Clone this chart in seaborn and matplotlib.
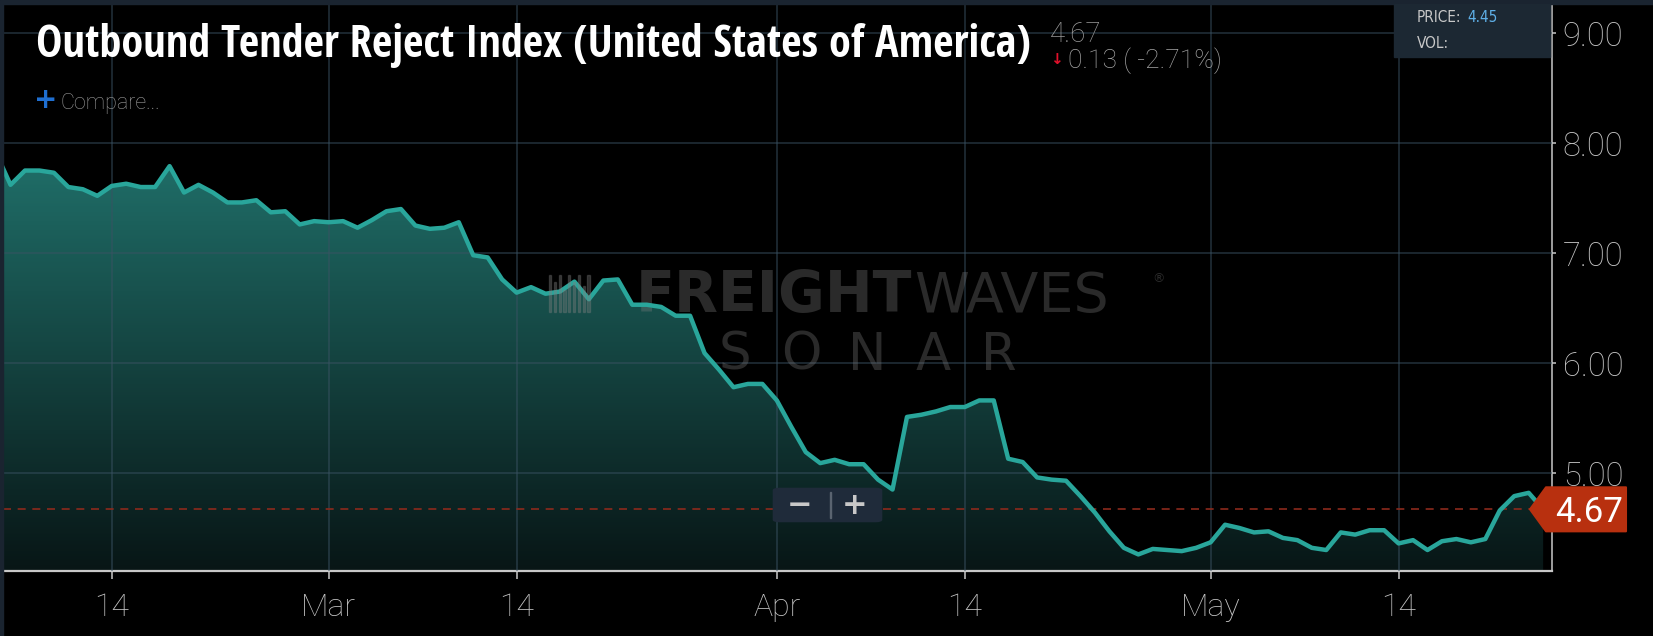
import numpy as np
import pandas as pd
import matplotlib
matplotlib.use('Agg')
import matplotlib.pyplot as plt
from matplotlib import font_manager as fm
from matplotlib.patches import Rectangle, FancyBboxPatch, Polygon
from matplotlib.colors import LinearSegmentedColormap
import seaborn as sns

# daily index values, 2019-02-06 .. 2019-05-24
start_date = '2019-02-06'
reject_index = [
    7.91, 7.62, 7.75, 7.75, 7.73, 7.60, 7.58, 7.52, 7.61, 7.63,
    7.60, 7.60, 7.79, 7.55, 7.62, 7.55, 7.46, 7.46, 7.48, 7.37,
    7.38, 7.26, 7.29,
    7.28, 7.29, 7.23, 7.30, 7.38, 7.40, 7.25, 7.22, 7.23, 7.28,
    6.98, 6.96, 6.76, 6.64, 6.69, 6.63, 6.65, 6.74, 6.58, 6.75,
    6.76, 6.53, 6.53, 6.51, 6.43, 6.43, 6.09, 5.94, 5.78, 5.81,
    5.81,
    5.66, 5.42, 5.19, 5.09, 5.12, 5.08, 5.08, 4.94, 4.85, 5.51,
    5.53, 5.56, 5.60, 5.60, 5.66, 5.66, 5.13, 5.10, 4.96, 4.94,
    4.93, 4.79, 4.64, 4.47, 4.32, 4.26, 4.31, 4.30, 4.29, 4.32,
    4.37, 4.53, 4.50, 4.46, 4.47, 4.41, 4.39, 4.32, 4.30, 4.46,
    4.44, 4.48, 4.48, 4.36, 4.39, 4.30, 4.38, 4.40, 4.37, 4.40,
    4.66, 4.79, 4.82, 4.67,
]
tick_dates = ['2019-02-14', '2019-03-01', '2019-03-14', '2019-04-01',
              '2019-04-14', '2019-05-01', '2019-05-14']
tick_labels = ['14', 'Mar', '14', 'Apr', '14', 'May', '14']
y_ticks = [5, 6, 7, 8, 9]
last_value = 4.67
title = 'Outbound Tender Reject Index (United States of America)'
last_text = '4.67'
change_text = '0.13 ( -2.71%)'
price_text = '4.45'

df = pd.DataFrame({
    'date': pd.date_range(start_date, periods=len(reject_index), freq='D'),
    'value': reject_index,
})

sns.set_theme(style='dark', rc={
    'figure.facecolor': 'black',
    'axes.facecolor': 'black',
    'savefig.facecolor': 'black',
})
plt.rcParams['font.family'] = ['Roboto', 'DejaVu Sans']


def weight_num(w):
    if isinstance(w, int):
        return w
    return {'bold': 700, 'heavy': 800, 'black': 900, 'semibold': 600,
            'demibold': 600, 'light': 300}.get(str(w), 400)


def narrow_faces(bold):
    # installed condensed / narrow upright proportional faces
    out = []
    for f in fm.fontManager.ttflist:
        tag = (f.name + ' ' + f.fname + ' ' + str(f.stretch)).lower()
        if f.style != 'normal' or 'italic' in tag or 'mono' in tag:
            continue
        if not ('narrow' in tag or 'condensed' in tag):
            continue
        w = weight_num(f.weight)
        if (bold and 700 <= w <= 800) or (not bold and 380 <= w <= 500):
            out.append(fm.FontProperties(fname=f.fname))
    return out


W, H = 1653, 636


def fx(x):
    return x / W


def fy(y):
    return 1 - y / H


fig = plt.figure(figsize=(W / 100, H / 100), dpi=100)
ax = fig.add_axes([fx(3), fy(570.7), fx(1551.7) - fx(3), (570.7 - 4) / H])
renderer = fig.canvas.get_renderer()


def closest_face(faces, text, size, target):
    best, best_d = None, None
    for fp in faces:
        t = fig.text(0, 0, text, fontproperties=fp, fontsize=size)
        d = abs(t.get_window_extent(renderer).width - target)
        t.remove()
        if best_d is None or d < best_d:
            best, best_d = fp, d
    return best


title_w = 995
narrow_bold = closest_face(narrow_faces(True), title, 31.6, title_w)
narrow_reg = closest_face(narrow_faces(False), 'PRICE:', 10, 41)

# frame strips along top and left
fig.patches.append(Rectangle((0, fy(4)), 1, 4 / H, transform=fig.transFigure,
                             color='#1a2430', zorder=0))
fig.patches.append(Rectangle((0, 0), 3 / W, 1, transform=fig.transFigure,
                             color='#1a2430', zorder=0))

x0 = pd.Timestamp('2019-02-06 11:30')
x1 = pd.Timestamp('2019-05-24 14:10')
y0, y1 = 4.112, 9.264
ax.set_xlim(x0, x1)
ax.set_ylim(y0, y1)

# gradient area under the curve
poly = ax.fill_between(df['date'], df['value'], y0, facecolor='none',
                       edgecolor='none', zorder=1)
cmap = LinearSegmentedColormap.from_list('fill', ['#081616', '#20706a'])
v_lo, v_hi, ext_top = 4.11, 7.94, 9.3
grad = np.clip((np.linspace(v_lo, ext_top, 256) - v_lo) / (v_hi - v_lo), 0, 1).reshape(-1, 1)
xn = ax.get_xlim()
img = ax.imshow(grad, cmap=cmap, vmin=0, vmax=1, aspect='auto', origin='lower',
                extent=[xn[0], xn[1], v_lo, ext_top], zorder=1)
img.set_clip_path(poly.get_paths()[0], transform=ax.transData)
ax.set_xlim(x0, x1)
ax.set_ylim(y0, y1)

sns.lineplot(data=df, x='date', y='value', color='#29a69b', linewidth=3.2,
             ax=ax, zorder=4)

ax.axhline(last_value, color='#8c2a1c', linewidth=1.2, dashes=(4.8, 4.0), zorder=3)

# axes styling
ax.set_xlabel('')
ax.set_ylabel('')
ax.set_xticks(pd.to_datetime(tick_dates))
ax.set_xticklabels(tick_labels)
ax.yaxis.tick_right()
ax.set_yticks(y_ticks)
ax.set_yticklabels([f'{v:.2f}' for v in y_ticks])
for sp in ['top', 'left']:
    ax.spines[sp].set_visible(False)
for sp in ['bottom', 'right']:
    ax.spines[sp].set_visible(True)
    ax.spines[sp].set_color('#c8c8c8')
ax.spines['bottom'].set_linewidth(1.6)
ax.spines['right'].set_linewidth(1.1)
ax.tick_params(axis='x', bottom=True, length=5.8, width=1.1, color='#c8c8c8',
               labelcolor='#c4c4c4', labelsize=23, pad=10)
ax.tick_params(axis='y', right=True, left=False, length=2.9, width=1.1,
               color='#c8c8c8', labelcolor='#c4c4c4', labelsize=23.5, pad=5)
for lab in ax.get_xticklabels() + ax.get_yticklabels():
    lab.set_fontweight('light')
ax.grid(True, color='#3a5263', alpha=0.6, linewidth=1.1)
ax.set_axisbelow(False)
for gl in ax.get_xgridlines() + ax.get_ygridlines():
    gl.set_zorder(2)

# watermark
wm = dict(color='#808080', alpha=0.33, zorder=3, transform=fig.transFigure)
ax.text(fx(912), fy(312), 'FREIGHT', ha='right', va='baseline', fontsize=41,
        fontweight='bold', family=['DejaVu Sans'], **wm)
ax.text(fx(914), fy(312), 'WAVES', ha='left', va='baseline', fontsize=40,
        fontweight='normal', family=['DejaVu Sans'], **wm)
ax.text(fx(1152), fy(282), '®', ha='left', va='baseline', fontsize=9,
        family=['DejaVu Sans'], **wm)
bar_h = [37, 30, 37, 22, 37, 30, 37, 26, 37]
for i, h in enumerate(bar_h):
    fig.patches.append(Rectangle((fx(549 + i * 4.8), fy(312)), 2.2 / W, h / H,
                                 transform=fig.transFigure, color='#808080',
                                 alpha=0.33, zorder=3))
for i, ch in enumerate('SONAR'):
    ax.text(fx(735 + i * 66), fy(370), ch, ha='center', va='baseline',
            fontsize=37, fontweight='normal', family=['DejaVu Sans'], **wm)

# title, fitted to the reference width
if narrow_bold is not None:
    t_title = fig.text(fx(36), fy(57), title, ha='left', va='baseline',
                       color='white', fontproperties=narrow_bold)
else:
    t_title = fig.text(fx(36), fy(57), title, ha='left', va='baseline',
                       color='white', fontweight='bold')
t_title.set_fontsize(31.6)
bw = t_title.get_window_extent(renderer).width
t_title.set_fontsize(31.6 * title_w / bw)

fig.text(fx(1050), fy(42), last_text, ha='left', va='baseline', color='#9a9a9a',
         fontsize=20, fontweight='light')
fig.text(fx(1056), fy(60), '↓', ha='center', va='center', color='#e0102a',
         fontsize=11, fontweight='bold', family=['DejaVu Sans'])
fig.text(fx(1068), fy(68), change_text, ha='left', va='baseline', color='#a6a6a6',
         fontsize=19, fontweight='light')
fig.text(fx(34), fy(100), '+', ha='left', va='center', color='#1f6fd1',
         fontsize=20, fontweight='bold', family=['DejaVu Sans'])
fig.text(fx(60), fy(104), 'Compare...', ha='left', va='center', color='#9a9a9a',
         fontsize=15.5, fontweight='light')

# price box
fig.patches.append(Rectangle((fx(1394), fy(57)), 156 / W, 53 / H,
                             transform=fig.transFigure, color='#1c2833', zorder=5))
small = dict(ha='left', va='center', fontsize=10.5, zorder=6)
if narrow_reg is not None:
    small['fontproperties'] = narrow_reg
    small['fontsize'] = 11
fig.text(fx(1417), fy(18), 'PRICE:', color='#c8c8c8', **small)
fig.text(fx(1467), fy(18), price_text, color='#5fb0e8', **small)
fig.text(fx(1417), fy(43), 'VOL:', color='#c8c8c8', **small)

# zoom control
fig.patches.append(FancyBboxPatch((fx(776), fy(521)), 103 / W, 32 / H,
                                  boxstyle='round,pad=0.002,rounding_size=0.004',
                                  transform=fig.transFigure, facecolor='#1f2b3a',
                                  edgecolor='none', zorder=6))
fig.text(fx(800), fy(505), '−', ha='center', va='center', color='#c8c8c8',
         fontsize=22, fontweight='bold', family=['DejaVu Sans'], zorder=7)
fig.text(fx(855), fy(505), '+', ha='center', va='center', color='#c8c8c8',
         fontsize=22, fontweight='bold', family=['DejaVu Sans'], zorder=7)
fig.patches.append(Rectangle((fx(829.5), fy(518)), 1.2 / W, 26 / H,
                             transform=fig.transFigure, color='#5a6470', zorder=7))

# last value badge, placed at the data value
ypix = ax.transData.transform((0, last_value))[1]
yb = H - ypix
badge = [(1530, yb), (1546, yb - 22), (1626, yb - 22), (1626, yb + 22), (1546, yb + 22)]
fig.patches.append(Polygon([(fx(a), fy(b)) for a, b in badge], closed=True,
                           transform=fig.transFigure, facecolor='#b8300f',
                           edgecolor='#b8300f', linewidth=1.5, joinstyle='round',
                           zorder=8))
fig.text(fx(1589), fy(yb), last_text, ha='center', va='center_baseline', color='white',
         fontsize=25, zorder=9)

fig.savefig('out.png', dpi=100)
